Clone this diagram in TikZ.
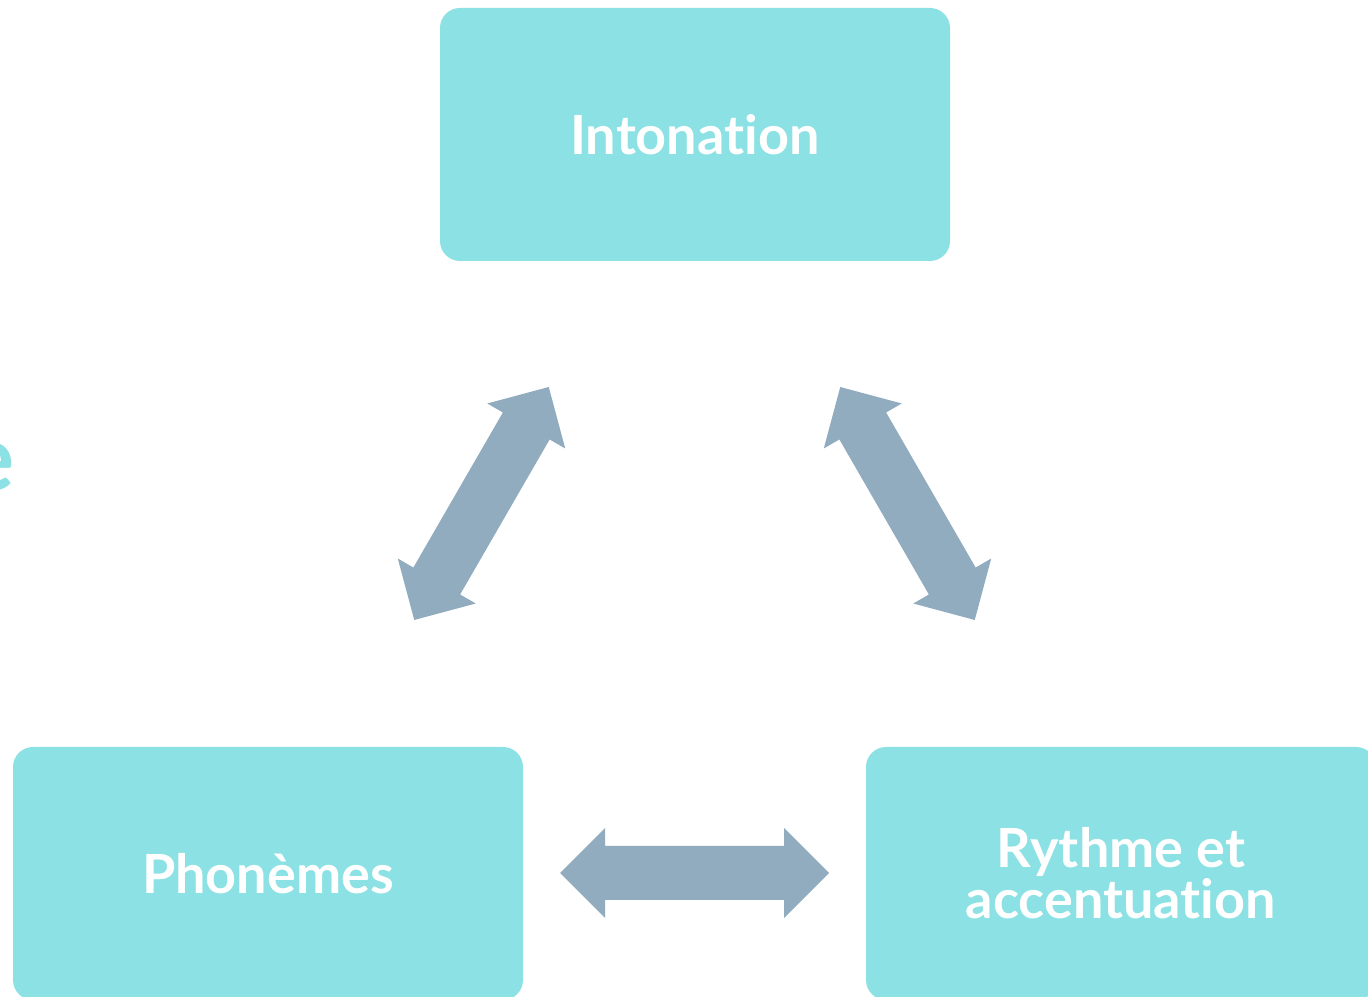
\documentclass[tikz,border=0pt]{standalone}
\usepackage{fontspec}
\setmainfont{Lato}[Ligatures=NoCommon]
\definecolor{boxcol}{RGB}{139,225,227}
\definecolor{arrcol}{RGB}{145,171,191}
\tikzset{
  box/.style={fill=boxcol, draw=none, rounded corners=20pt, minimum width=510pt, minimum height=253pt,
    text=white, font=\bfseries\fontsize{54}{51}\selectfont, align=center, inner sep=0pt},
  dblarrow/.pic={\fill[arrcol] (-134.5,0) -- (-89.5,-45) -- (-89.5,-27) -- (89.5,-27) -- (89.5,-45)
     -- (134.5,0) -- (89.5,45) -- (89.5,27) -- (-89.5,27) -- (-89.5,45) -- cycle;}
}
\begin{document}
\begin{tikzpicture}[x=1pt,y=1pt]
\useasboundingbox (0,0) rectangle (1368,996);
\clip (0,0) rectangle (1368,996);
\node[box] (into) at (695,861.5) {Intonation};
\node[box] (phon) at (268,122.5) {Phonèmes};
\node[box] (ryth) at (1121,122.5) {Rythme et\\accentuation};
\node[anchor=base east, inner sep=0pt, text=boxcol, font=\bfseries\fontsize{92}{92}\selectfont] (title) at (15,505) {e};
\pic (a1) at (481.5,492.5) [rotate=60] {dblarrow};
\pic (a2) at (907.5,492.5) [rotate=-60] {dblarrow};
\pic (a3) at (694.5,123) {dblarrow};
\end{tikzpicture}
\end{document}
